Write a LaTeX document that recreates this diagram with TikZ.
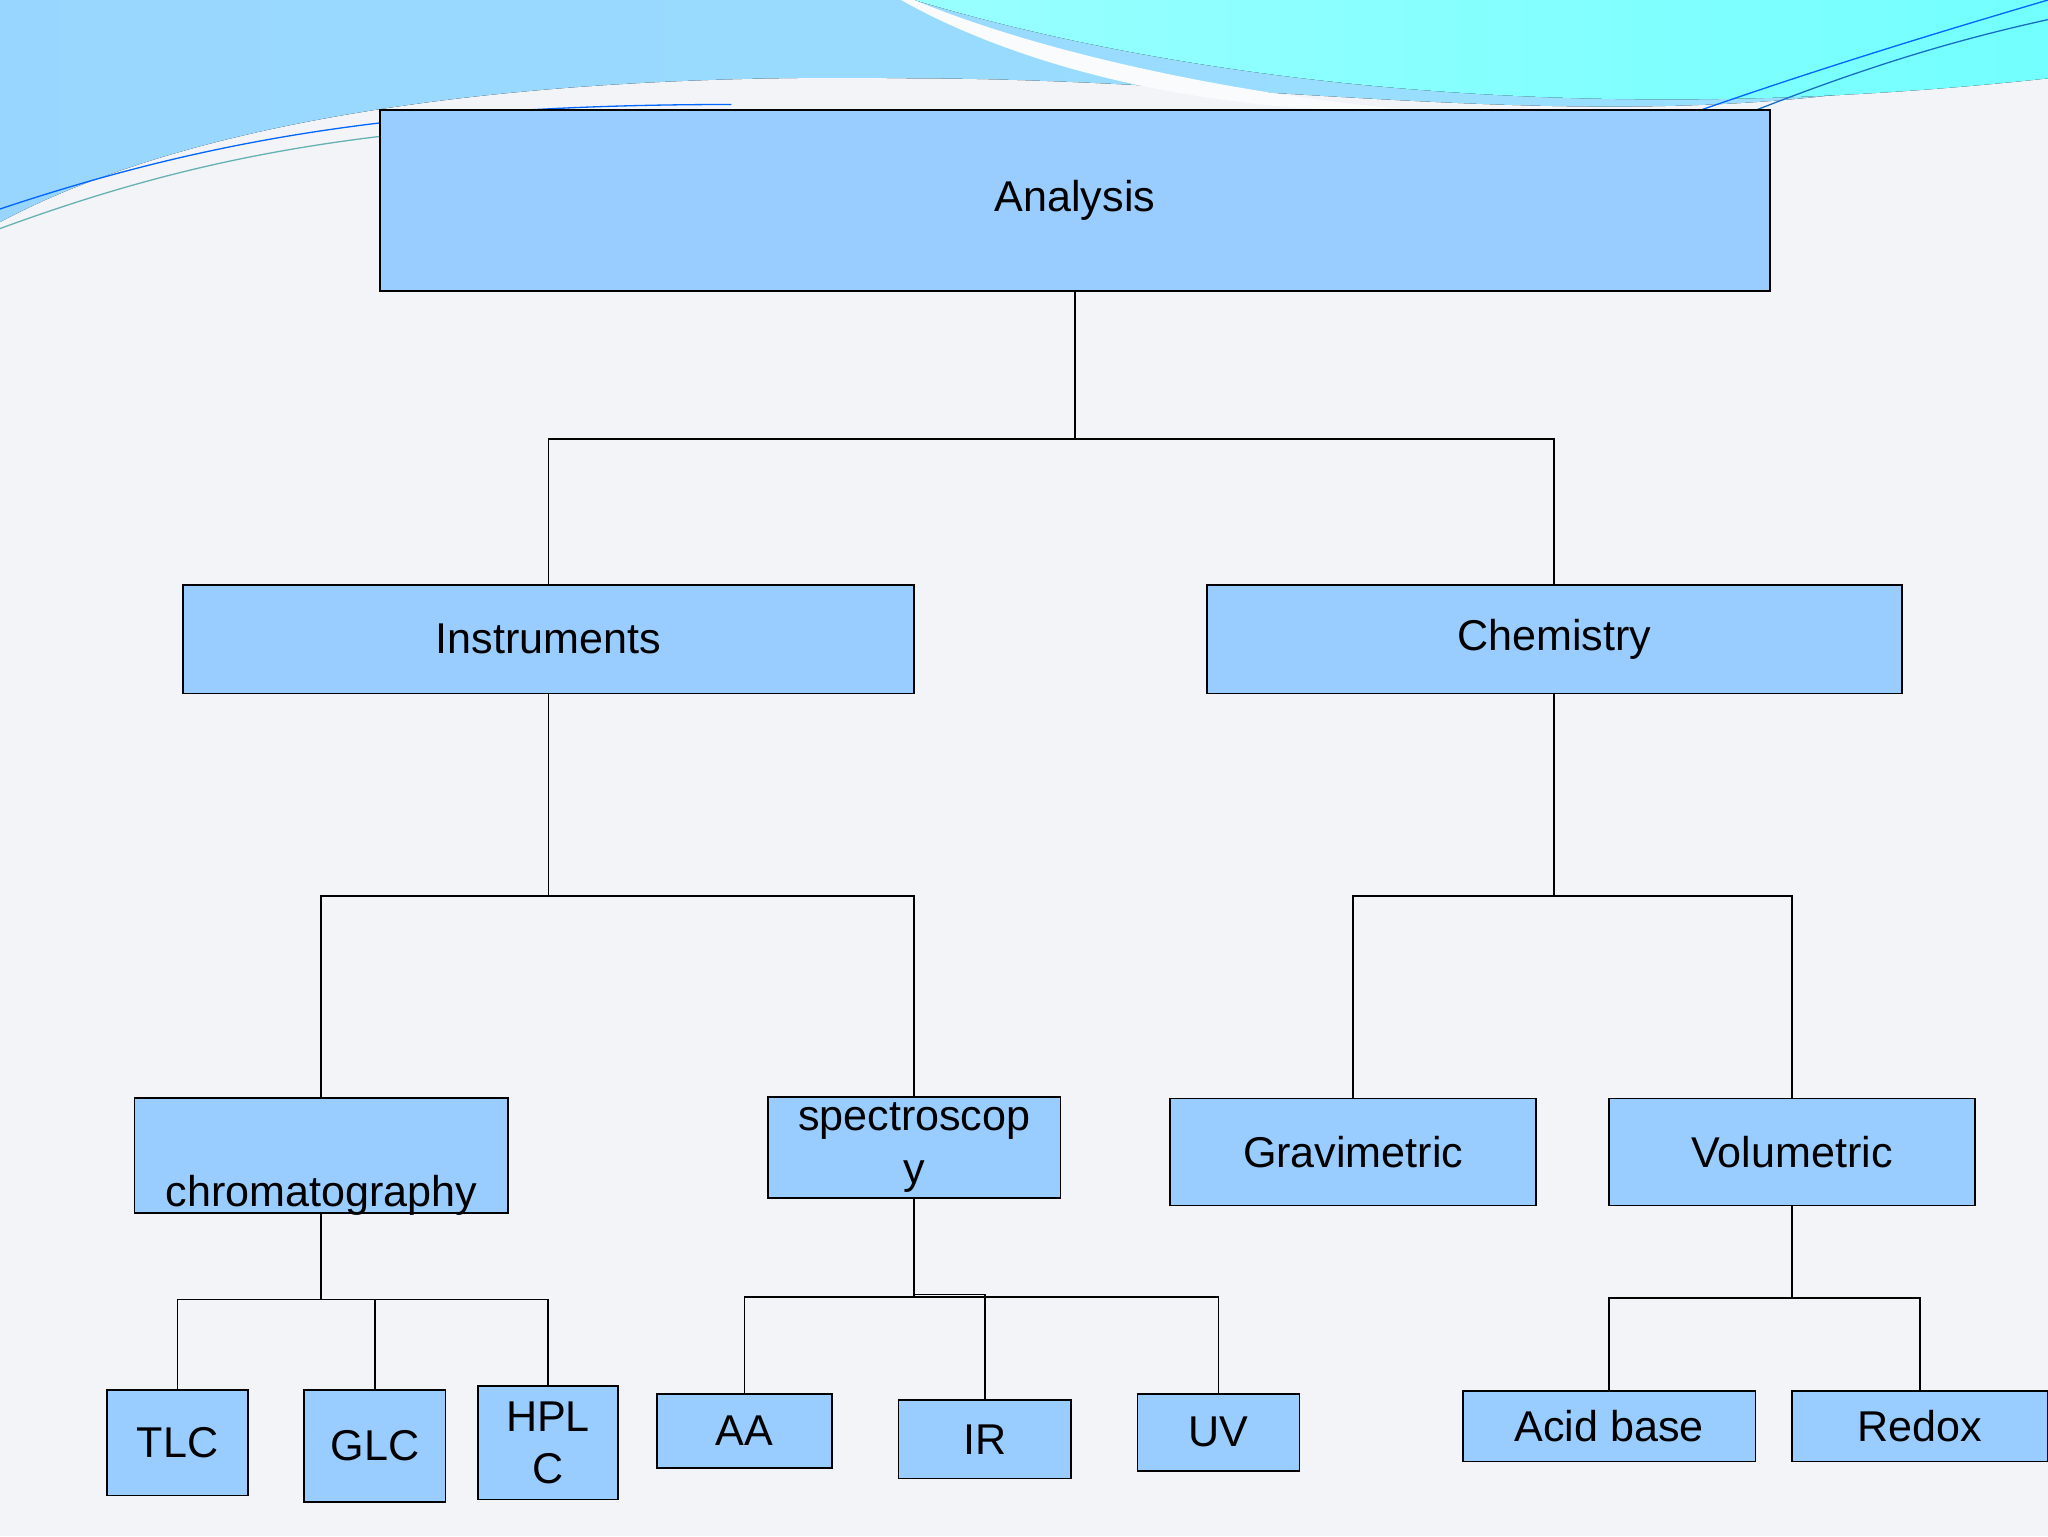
\documentclass[tikz,border=0pt]{standalone}
\usepackage{fontspec}
\setmainfont{Liberation Sans}
\begin{document}
\begin{tikzpicture}[x=1pt,y=-1pt,
  box/.style={draw=black,line width=1.3pt,fill=boxblue,inner sep=0pt,align=center,font=\fontsize{33}{36}\selectfont},
  con/.style={draw=black,line width=1.3pt}]
\definecolor{boxblue}{HTML}{99CCFF}
\definecolor{bg}{HTML}{F3F4F8}
\useasboundingbox (0,0) rectangle (1568,1176);
\fill[bg] (0,0) rectangle (1568,1176);
% top waves
\fill[left color=cyan!60!blue!40,right color=blue!30!cyan!40] (0,0) -- (1568,0) -- (1568,40) .. controls (1300,120) and (1000,60) .. (700,60) .. controls (400,55) and (150,90) .. (0,170) -- cycle;
\fill[left color=cyan!40,right color=cyan!55] (700,0) .. controls (900,60) and (1200,100) .. (1568,60) -- (1568,0) -- cycle;
\fill[white!60!bg] (700,0) .. controls (820,50) and (1000,80) .. (1100,85) .. controls (900,90) and (760,40) .. (690,0) -- cycle;
\draw[blue!60!cyan,line width=1pt] (0,160) .. controls (150,110) and (300,80) .. (560,80);
\draw[teal!60,line width=1pt] (0,175) .. controls (150,120) and (280,95) .. (520,90);
\draw[blue!60!cyan,line width=1pt] (1300,85) .. controls (1400,50) and (1500,20) .. (1568,0);
\draw[cyan!50!blue,line width=1pt] (1330,90) .. controls (1430,50) and (1500,30) .. (1568,15);
% boxes
\node[box,minimum width=1064,minimum height=139] (an) at (823,153.5) {Analysis};
\node[box,minimum width=560,minimum height=83] (in) at (420,489.5) {Instruments};
\node[box,minimum width=532,minimum height=83] (ch) at (1190,489.5) {Chemistry};
\node[box,minimum width=286,minimum height=88,text depth=0pt,anchor=north] (chr) at (246,840) {\rule{0pt}{78pt}chromatography};
\node[box,minimum width=224,minimum height=77,font=\fontsize{33}{40}\selectfont] (sp) at (700,878.5) {spectroscop\\y};
\node[box,minimum width=280,minimum height=82] (gr) at (1036,882) {Gravimetric};
\node[box,minimum width=280,minimum height=82] (vo) at (1372,882) {Volumetric};
\node[box,minimum width=108,minimum height=81] (tlc) at (136,1104.5) {TLC};
\node[box,minimum width=108,minimum height=86] (glc) at (287,1107) {GLC};
\node[box,minimum width=107,minimum height=87,font=\fontsize{33}{40}\selectfont] (hp) at (419.5,1104.5) {HPL\\C};
\node[box,minimum width=134,minimum height=57] (aa) at (570,1095.5) {AA};
\node[box,minimum width=132,minimum height=60] (ir) at (754,1102) {IR};
\node[box,minimum width=124,minimum height=59] (uv) at (933,1096.5) {UV};
\node[box,minimum width=224,minimum height=54] (ab) at (1232,1092) {Acid base};
\node[box,minimum width=196,minimum height=54] (rx) at (1470,1092) {Redox};
% connectors
\coordinate (j1) at (823,336);
\draw[con] (an.south) -- (j1);
\draw[con] (in.north) |- (j1) -| (ch.north);
\coordinate (j2) at (420,686);
\draw[con] (in.south) -- (j2);
\draw[con] (chr.north) |- (j2) -| (sp.north);
\coordinate (j3) at (1190,686);
\draw[con] (ch.south) -- (j3);
\draw[con] (gr.north) |- (j3) -| (vo.north);
\coordinate (j4) at (246,995);
\draw[con] (chr.south) -- (j4);
\draw[con] (tlc.north) |- (j4) -| (hp.north);
\draw[con] (glc.north) -- (glc.north |- j4);
\coordinate (j5) at (700,993);
\draw[con] (sp.south) -- (j5);
\draw[con] (aa.north) |- (j5) -| (uv.north);
\draw[con] (ir.north) |- ([yshift=2]j5);
\coordinate (j6) at (1372,994);
\draw[con] (vo.south) -- (j6);
\draw[con] (ab.north) |- (j6) -| (rx.north);
\end{tikzpicture}
\end{document}
